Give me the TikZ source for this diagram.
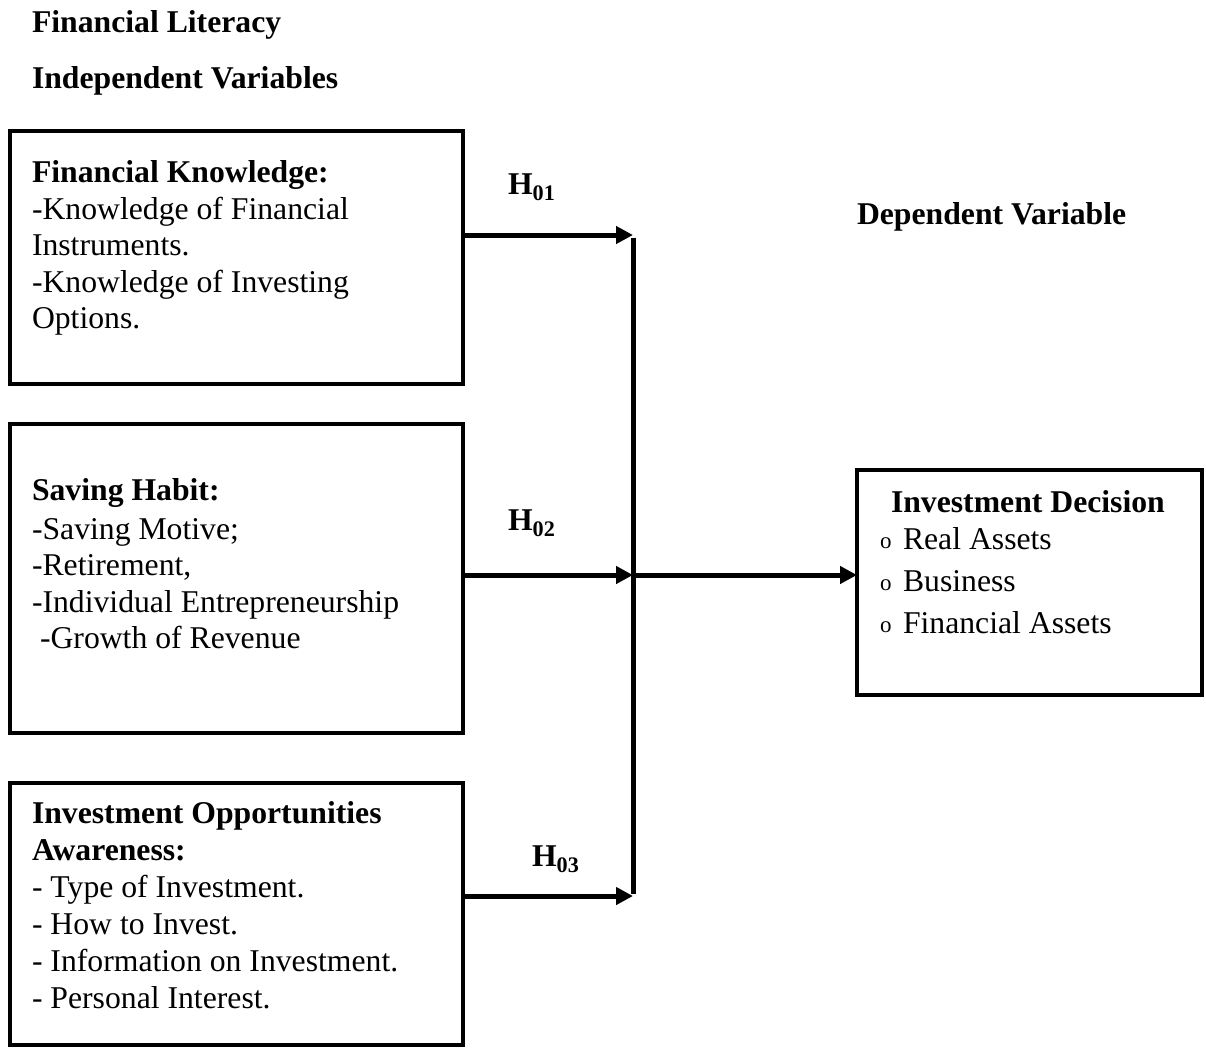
\documentclass[tikz,border=0pt]{standalone}
\usepackage{fontspec}
\setmainfont{Liberation Serif}
\usetikzlibrary{arrows.meta}
\begin{document}
\begin{tikzpicture}[x=1pt,y=-1pt,
  box/.style={draw,line width=4pt,outer sep=0pt,inner sep=0pt,anchor=north west,rectangle},
  txt/.style={anchor=base west,inner sep=0pt,outer sep=0pt,font=\fontsize{31.7}{36.5}\selectfont},
  hd/.style={txt,font=\fontsize{31.7}{36.5}\selectfont\bfseries},
  bul/.style={anchor=base west,inner sep=0pt,outer sep=0pt,font=\fontsize{23}{26}\selectfont},
  conn/.style={line width=5pt},
  arr/.style={conn,-{Triangle[length=17pt,width=17pt]}}]
\useasboundingbox (0,0) rectangle (1206,1050);
% titles
\node[hd] (tFL) at (32,32) {Financial Literacy};
\node[hd] (tIV) at (32,88) {Independent Variables};
\node[hd] (tDV) at (857,224) {Dependent Variable};
% boxes
\node[box,minimum width=453pt,minimum height=253pt] (b1) at (10,131) {};
\node[box,minimum width=453pt,minimum height=309pt] (b2) at (10,424) {};
\node[box,minimum width=453pt,minimum height=262pt] (b3) at (10,783) {};
\node[box,minimum width=345pt,minimum height=225pt] (b4) at (857,470) {};
% box 1 text
\node[hd]  (k0) at (32,182) {Financial Knowledge:};
\node[txt] (k1) at (32,219) {-Knowledge of Financial};
\node[txt] (k2) at (32,255) {Instruments.};
\node[txt] (k3) at (32,292) {-Knowledge of Investing};
\node[txt] (k4) at (32,328) {Options.};
% box 2 text
\node[hd]  (s0) at (32,500) {Saving Habit:};
\node[txt] (s1) at (32,539) {-Saving Motive;};
\node[txt] (s2) at (32,575) {-Retirement,};
\node[txt] (s3) at (32,612) {-Individual Entrepreneurship};
\node[txt] (s4) at (40,648) {-Growth of Revenue};
% box 3 text
\node[hd]  (o0) at (32,823) {Investment Opportunities};
\node[hd]  (o1) at (32,860) {Awareness:};
\node[txt] (o2) at (32,897) {- Type of Investment.};
\node[txt] (o3) at (32,934) {- How to Invest.};
\node[txt] (o4) at (32,971) {- Information on Investment.};
\node[txt] (o5) at (32,1008) {- Personal Interest.};
% box 4 text
\node[hd]  (d0) at (891,512) {Investment Decision};
\node[bul] (d1b) at (880,548) {o};
\node[txt] (d1) at (903,549) {Real Assets};
\node[bul] (d2b) at (880,590) {o};
\node[txt] (d2) at (903,591) {Business};
\node[bul] (d3b) at (880,632) {o};
\node[txt] (d3) at (903,633) {Financial Assets};
% hypothesis labels
\node[hd] (h1) at (508,194) {H\textsubscript{01}};
\node[hd] (h2) at (508,530) {H\textsubscript{02}};
\node[hd] (h3) at (532,866) {H\textsubscript{03}};
% junctions
\coordinate (j1) at (633,235);
\coordinate (j2) at (633,575);
\coordinate (j3) at (633,896);
% connectors
\draw[conn] ([yshift=-2.5pt]j1) -- ([yshift=2.5pt]j3);
\draw[arr] (b1.east |- j1) -- (j1);
\draw[arr] (b2.east |- j2) -- (j2);
\draw[arr] (b3.east |- j3) -- (j3);
\draw[arr] (j2) -- (b4.west |- j2);
\end{tikzpicture}
\end{document}
